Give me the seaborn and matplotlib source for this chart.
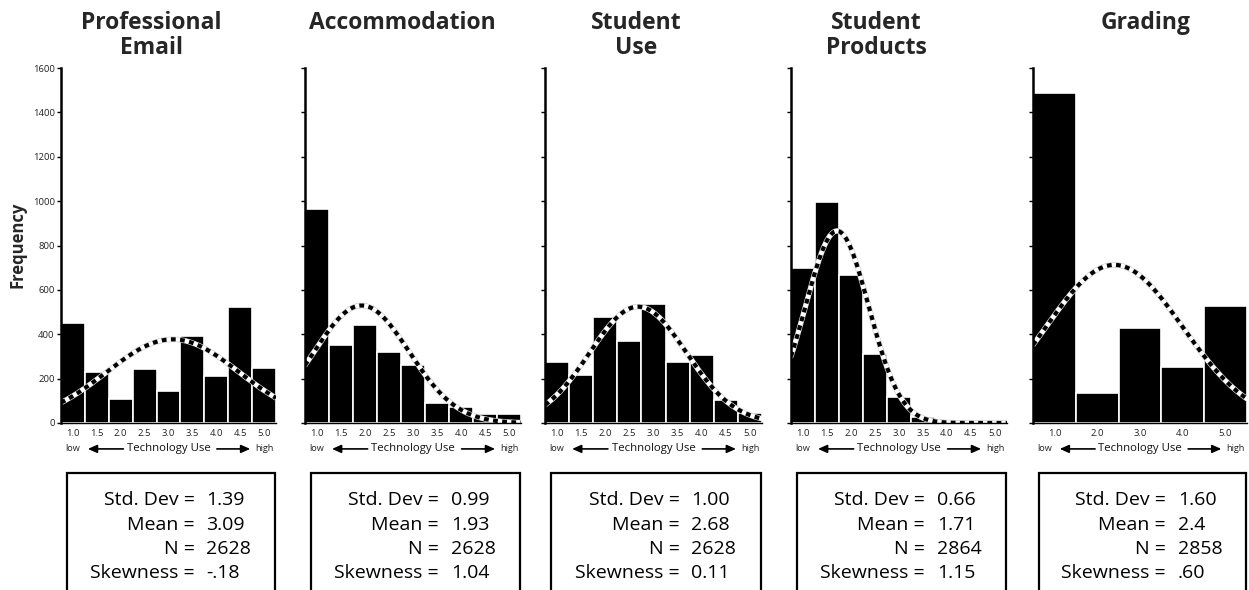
import numpy as np
import pandas as pd
import matplotlib
matplotlib.use("Agg")
import matplotlib.pyplot as plt
from matplotlib.patches import Rectangle
import seaborn as sns

# ---- data -------------------------------------------------------------
titles = ["Professional\nEmail", "Accommodation", "Student\nUse",
          "Student\nProducts", "Grading"]

half_centers = [1.0, 1.5, 2.0, 2.5, 3.0, 3.5, 4.0, 4.5, 5.0]
whole_centers = [1.0, 2.0, 3.0, 4.0, 5.0]

email_counts = [451, 230, 108, 245, 146, 392, 213, 523, 246]
accommodation_counts = [966, 352, 442, 320, 261, 90, 71, 42, 42]
student_use_counts = [273, 216, 476, 370, 535, 273, 305, 102, 44]
student_products_counts = [699, 998, 667, 311, 117, 27, 14, 10, 8]
grading_counts = [1487, 135, 430, 254, 526]

std_devs = ["1.39", "0.99", "1.00", "0.66", "1.60"]
means = ["3.09", "1.93", "2.68", "1.71", "2.4"]
ns = ["2628", "2628", "2628", "2864", "2858"]
skews = ["-.18", "1.04", "0.11", "1.15", ".60"]

y_ticks = [0, 200, 400, 600, 800, 1000, 1200, 1400, 1600]

panels = [
    (half_centers, email_counts),
    (half_centers, accommodation_counts),
    (half_centers, student_use_counts),
    (half_centers, student_products_counts),
    (whole_centers, grading_counts),
]

# ---- style ------------------------------------------------------------
sns.set_theme(style="ticks")
plt.rcParams["font.family"] = ["Open Sans", "DejaVu Sans"]

W, H = 1249, 590
fig = plt.figure(figsize=(W / 100, H / 100), dpi=100)

# axes extents in pixels (left, right); shared top/bottom
ax_px = [(61, 276), (305, 521), (545, 762), (791, 1007), (1033, 1247)]
top_px, bot_px = 68, 423
title_cx = [151, 402, 636, 876, 1146]

for i, ((centers, counts), (l, r)) in enumerate(zip(panels, ax_px)):
    ax = fig.add_axes([l / W, 1 - bot_px / H, (r - l) / W, (bot_px - top_px) / H])
    centers = np.asarray(centers, dtype=float)
    bw = centers[1] - centers[0]
    edges = np.append(centers - bw / 2, centers[-1] + bw / 2)
    # one row per response, so the histogram counts reproduce the frequencies
    df = pd.DataFrame({"score": np.repeat(centers, counts)})

    sns.histplot(data=df, x="score", bins=edges, ax=ax,
                 color="black", edgecolor="white", linewidth=1.2, alpha=1)

    lo = 0.5 if bw == 1.0 else 0.75
    hi = 5.5 if bw == 1.0 else 5.25
    ax.set_xlim(lo, hi)
    ax.set_ylim(0, 1600)

    # normal curve from the reported statistics
    mu, sd, n = float(means[i]), float(std_devs[i]), int(ns[i])
    xs = np.linspace(lo, hi, 300)
    ys = n * bw * np.exp(-0.5 * ((xs - mu) / sd) ** 2) / (sd * np.sqrt(2 * np.pi))
    sns.lineplot(x=xs, y=ys, ax=ax, color="#c4c4c4", linewidth=3.9)
    sns.lineplot(x=xs, y=ys, ax=ax, color="white", linewidth=3.2)
    line = sns.lineplot(x=xs, y=ys, ax=ax, color="black", linewidth=3.0).lines[-1]
    line.set_dashes([1.15, 1.05])
    line.set_solid_capstyle("butt")

    ax.set_xlabel("")
    ax.set_ylabel("")
    ax.set_xticks(centers)
    ax.set_xticklabels([f"{c:.1f}" for c in centers], fontsize=6.8, color="#222222")
    ax.tick_params(axis="x", length=0, pad=4)
    ax.set_yticks(y_ticks)
    if i == 0:
        ax.set_yticklabels([str(t) for t in y_ticks], fontsize=6.8, color="#222222")
    else:
        ax.set_yticklabels([])
    ax.tick_params(axis="y", length=3, width=1, pad=1.5, color="black")

    sns.despine(ax=ax)
    ax.spines["left"].set_linewidth(1.8)
    ax.spines["left"].set_color("black")
    ax.spines["bottom"].set_linewidth(1.0)
    ax.spines["bottom"].set_color("black")

    # low <-- Technology Use --> high
    yl = -0.073
    ax.text(0.02, yl, "low", transform=ax.transAxes, ha="left", va="center",
            fontsize=6.6, color="#222222")
    ax.text(0.99, yl, "high", transform=ax.transAxes, ha="right", va="center",
            fontsize=6.6, color="#222222")
    ax.text(0.5, yl, "Technology Use", transform=ax.transAxes, ha="center",
            va="center", fontsize=8.2, color="#111111")
    arrow = dict(arrowstyle="-|>,head_length=0.45,head_width=0.2",
                 color="black", lw=1.2, shrinkA=0, shrinkB=0)
    ax.annotate("", xy=(0.125, yl), xytext=(0.29, yl), xycoords="axes fraction",
                textcoords="axes fraction", arrowprops=arrow, annotation_clip=False)
    ax.annotate("", xy=(0.88, yl), xytext=(0.725, yl), xycoords="axes fraction",
                textcoords="axes fraction", arrowprops=arrow, annotation_clip=False)

    # statistics box
    ah = bot_px - top_px
    aw = r - l
    box_top = (bot_px - 473) / ah
    ax.add_patch(Rectangle((6 / aw, -0.7), 1 - 7 / aw, box_top + 0.7,
                           transform=ax.transAxes, fill=False, edgecolor="black",
                           linewidth=1.6, clip_on=False))
    cx = 0.5 + 3 / aw
    lab_x = cx + 23 / aw
    val_x = cx + 35 / aw
    rows = [("Std. Dev =", std_devs[i]), ("Mean =", means[i]),
            ("N =", ns[i]), ("Skewness =", skews[i])]
    for k, (lab, val) in enumerate(rows):
        yb = (bot_px - (505 + 24.5 * k)) / ah
        ax.text(lab_x, yb, lab, transform=ax.transAxes, ha="right",
                va="baseline", fontsize=14, color="black")
        ax.text(val_x, yb, val, transform=ax.transAxes, ha="left",
                va="baseline", fontsize=14, color="black")

    fig.text(title_cx[i] / W, 1 - 11 / H, titles[i], ha="center", va="top",
             fontsize=16.5, fontweight="bold", linespacing=1.05)

fig.text(17 / W, 1 - 245 / H, "Frequency", rotation=90, ha="center",
         va="center", fontsize=12, fontweight="bold")

fig.savefig("out.png", dpi=100)
